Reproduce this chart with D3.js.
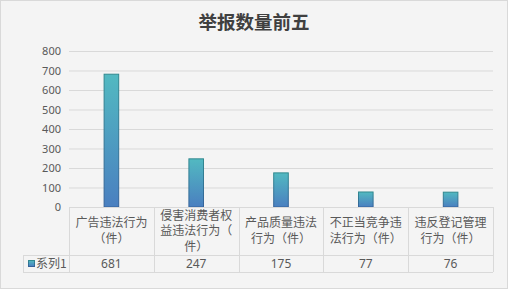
<!DOCTYPE html>
<html>
<head>
<meta charset="utf-8">
<script src="https://cdn.jsdelivr.net/npm/d3@7"></script>
<style>
  html, body { margin: 0; padding: 0; background: #fff; }
  svg { display: block; }
</style>
</head>
<body>
<div id="chart"></div>
<script>
// chart data
var title = "举报数量前五";
var seriesName = "系列1";
var categories = ["广告违法行为（件）", "侵害消费者权益违法行为（件）", "产品质量违法行为（件）", "不正当竞争违法行为（件）", "违反登记管理行为（件）"];
var values = [681, 247, 175, 77, 76];
var yTicks = [0, 100, 200, 300, 400, 500, 600, 700, 800];

var W = 508, H = 289;
var margin = {top: 51, left: 69, right: 15},
    plotW = W - margin.left - margin.right,
    plotH = 207 - margin.top;
var tableLeft = 23, rowH1 = 48, rowH2 = 17;

var cjk = "'Noto Sans CJK SC', 'Noto Sans', sans-serif";
var textColor = "#595959";
var lineColor = "#d9d9d9";

var svg = d3.select("#chart").append("svg")
    .attr("width", W)
    .attr("height", H);

var defs = svg.append("defs");
var grad = defs.append("linearGradient")
    .attr("id", "barFill")
    .attr("x1", 0).attr("y1", 0).attr("x2", 0).attr("y2", 1);
grad.append("stop").attr("offset", "0%").attr("stop-color", "#52b9c1");
grad.append("stop").attr("offset", "100%").attr("stop-color", "#4a7fc0");

var gradS = defs.append("linearGradient")
    .attr("id", "barStroke")
    .attr("x1", 0).attr("y1", 0).attr("x2", 0).attr("y2", 1);
gradS.append("stop").attr("offset", "0%").attr("stop-color", "#31898f");
gradS.append("stop").attr("offset", "100%").attr("stop-color", "#35629a");

// background + frame
svg.append("rect")
    .attr("x", 0.5).attr("y", 0.5)
    .attr("width", W - 1).attr("height", H - 1)
    .attr("fill", "#f4f4f4")
    .attr("stroke", lineColor);

svg.append("text")
    .attr("x", W / 2)
    .attr("y", 29)
    .attr("text-anchor", "middle")
    .style("font-family", cjk)
    .style("font-size", "18.5px")
    .style("font-weight", "bold")
    .style("fill", "#404040")
    .text(title);

var x = d3.scaleBand()
    .domain(categories)
    .range([0, plotW])
    .padding(0);

var y = d3.scaleLinear()
    .domain([0, 800])
    .range([plotH, 0]);

var g = svg.append("g")
    .attr("transform", "translate(" + margin.left + "," + margin.top + ")");

// gridlines + y labels
var yAxis = d3.axisLeft(y)
    .tickValues(yTicks)
    .tickSize(-plotW)
    .tickPadding(8)
    .tickFormat(d3.format("d"));

g.append("g")
    .attr("class", "y axis")
    .call(yAxis)
    .call(function(a) {
      a.select(".domain").remove();
      a.selectAll(".tick line").attr("stroke", lineColor);
      a.selectAll(".tick text")
        .style("font-family", "'Noto Sans', sans-serif")
        .style("font-size", "11px")
        .style("fill", textColor);
    });

// bars
var barW = x.bandwidth() * 0.172;
g.selectAll(".bar")
    .data(values)
  .enter().append("rect")
    .attr("class", "bar")
    .attr("x", function(d, i) { return x(categories[i]) + x.bandwidth() / 2 - barW / 2; })
    .attr("y", function(d) { return y(d); })
    .attr("width", barW)
    .attr("height", function(d) { return plotH - y(d); })
    .attr("fill", "url(#barFill)")
    .attr("stroke", "url(#barStroke)")
    .attr("stroke-width", 1);

// data table
var t = svg.append("g")
    .attr("transform", "translate(" + margin.left + "," + (margin.top + plotH) + ")");

var lines = t.append("g")
    .attr("stroke", lineColor)
    .attr("fill", "none");

lines.append("line")
    .attr("x1", 0).attr("x2", plotW)
    .attr("y1", 0.5).attr("y2", 0.5);
lines.append("line")
    .attr("x1", tableLeft - margin.left).attr("x2", plotW)
    .attr("y1", rowH1 + 0.5).attr("y2", rowH1 + 0.5);
lines.append("line")
    .attr("x1", tableLeft - margin.left).attr("x2", plotW)
    .attr("y1", rowH1 + rowH2 + 0.5).attr("y2", rowH1 + rowH2 + 0.5);
lines.append("line")
    .attr("x1", tableLeft - margin.left + 0.5).attr("x2", tableLeft - margin.left + 0.5)
    .attr("y1", rowH1).attr("y2", rowH1 + rowH2);

var bounds = categories.map(function(c) { return x(c); }).concat([plotW]);
lines.selectAll(".vline")
    .data(bounds)
  .enter().append("line")
    .attr("class", "vline")
    .attr("x1", function(d) { return Math.round(d) + 0.5; })
    .attr("x2", function(d) { return Math.round(d) + 0.5; })
    .attr("y1", 0)
    .attr("y2", rowH1 + rowH2);

// category labels, wrapped every 6 characters
function wrap(s) {
  var out = [];
  for (var i = 0; i < s.length; i += 6) out.push(s.slice(i, i + 6));
  return out;
}

var lineH = 15.5;
var cats = t.selectAll(".cat")
    .data(categories)
  .enter().append("text")
    .attr("class", "cat")
    .attr("text-anchor", "middle")
    .style("font-family", cjk)
    .style("font-size", "12px")
    .style("fill", textColor);

cats.each(function(c) {
  var parts = wrap(c);
  var el = d3.select(this);
  var y0 = rowH1 / 2 - (parts.length - 1) * lineH / 2;
  parts.forEach(function(p, k) {
    el.append("tspan")
      .attr("x", x(c) + x.bandwidth() / 2)
      .attr("y", y0 + k * lineH)
      .attr("dy", "0.35em")
      .text(p);
  });
});

t.selectAll(".val")
    .data(values)
  .enter().append("text")
    .attr("class", "val")
    .attr("x", function(d, i) { return x(categories[i]) + x.bandwidth() / 2; })
    .attr("y", rowH1 + rowH2 / 2)
    .attr("dy", "0.35em")
    .attr("text-anchor", "middle")
    .style("font-family", "'Noto Sans', sans-serif")
    .style("font-size", "12px")
    .style("fill", textColor)
    .text(function(d) { return d; });

// legend key in table
var lx = tableLeft - margin.left;
t.append("rect")
    .attr("x", lx + 5.5)
    .attr("y", rowH1 + 5.5)
    .attr("width", 6)
    .attr("height", 6)
    .attr("fill", "url(#barFill)")
    .attr("stroke", "url(#barStroke)");

t.append("text")
    .attr("x", lx + 13)
    .attr("y", rowH1 + rowH2 / 2)
    .attr("dy", "0.35em")
    .style("font-family", cjk)
    .style("font-size", "12px")
    .style("fill", textColor)
    .text(seriesName);
</script>
</body>
</html>
